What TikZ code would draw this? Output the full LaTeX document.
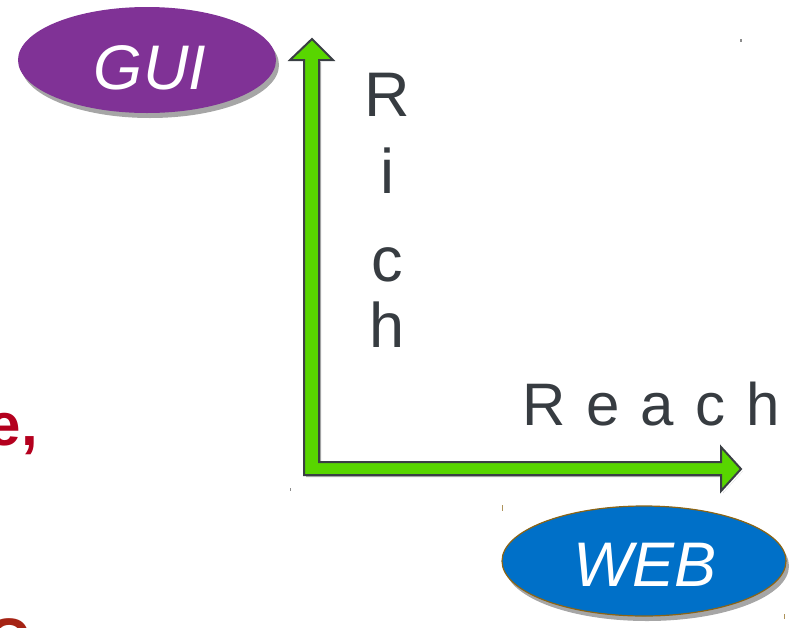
\documentclass[tikz,border=0pt]{standalone}
\usepackage{fontspec}
\setmainfont{Liberation Sans}
\definecolor{guipurple}{RGB}{128,50,150}
\definecolor{webblue}{RGB}{0,112,200}
\definecolor{webedge}{RGB}{140,100,20}
\definecolor{arrowgreen}{RGB}{88,214,0}
\definecolor{arrowedge}{RGB}{58,63,68}
\definecolor{textgrey}{RGB}{55,60,65}
\definecolor{cutred}{RGB}{180,0,30}
\definecolor{cutbrown}{RGB}{165,35,20}
\newcommand{\gapw}{\hspace{21pt}}
\tikzset{
  bigtext/.style={inner sep=0pt, text=textgrey, font=\fontsize{63}{70}\selectfont, anchor=base},
  ovallabel/.style={inner sep=0pt, text=white, font=\fontsize{63}{70}\selectfont\itshape},
  shade/.style={fill=black!35, draw=none},
}
\begin{document}
\begin{tikzpicture}[x=1pt,y=1pt]
\useasboundingbox (0,0) rectangle (792,-627);
\begin{scope}
\clip (0,0) rectangle (792,-627);
% GUI ellipse
\fill[shade] (150,-65) ellipse [x radius=129, y radius=53];
\fill[guipurple] (147,-60) ellipse [x radius=129, y radius=53];
\node[ovallabel] (gui) at (150,-68) {GUI};
% WEB ellipse
\fill[shade] (647,-566) ellipse [x radius=142, y radius=55];
\filldraw[fill=webblue, draw=webedge, line width=1.2pt] (644,-561) ellipse [x radius=142, y radius=55];
\node[ovallabel] (web) at (645,-565) {WEB};
% L-shaped arrow
\coordinate (corner) at (304,-475);
\fill[black!30] (306,-477) -- (306,-62) -- (321,-62) -- (321,-464) -- (723,-464) -- (723,-493) -- (743,-471) -- (723,-493) -- (723,-477) -- cycle;
\filldraw[fill=arrowgreen, draw=arrowedge, line width=2pt, line join=miter]
  (corner) -- (304,-60) -- (290,-60) -- (312,-39) -- (333,-60) -- (319,-60)
  -- (319,-462) -- (721,-462) -- (721,-447) -- (741,-469) -- (721,-491)
  -- (721,-475) -- cycle;
% Rich
\node[bigtext] (r1) at (387,-116) {R};
\node[bigtext] (r2) at (387,-193) {i};
\node[bigtext] (r3) at (387,-281) {c};
\node[bigtext] (r4) at (387,-347) {h};
% Reach
\node[bigtext, anchor=base west, font=\fontsize{60}{66}\selectfont] (reach) at (522,-425) {R\gapw e\gapw a\gapw c\gapw h};
% cut-off red text at left
\node[inner sep=0pt, anchor=base east, text=cutred, font=\fontsize{60}{66}\selectfont\bfseries] (cute) at (38,-445) {e,};
\node[inner sep=0pt, anchor=base west, text=cutbrown, font=\fontsize{60}{66}\selectfont\bfseries] (cutc) at (-14,-660) {C};
% tiny specks
\fill[black!45] (740,-39) rectangle (742,-42);
\fill[black!45] (290,-488) rectangle (291,-491);
\fill[webedge!70] (502,-505) rectangle (503,-511);
\fill[webedge!70] (784,-614) rectangle (785,-619);
\end{scope}
\end{tikzpicture}
\end{document}
